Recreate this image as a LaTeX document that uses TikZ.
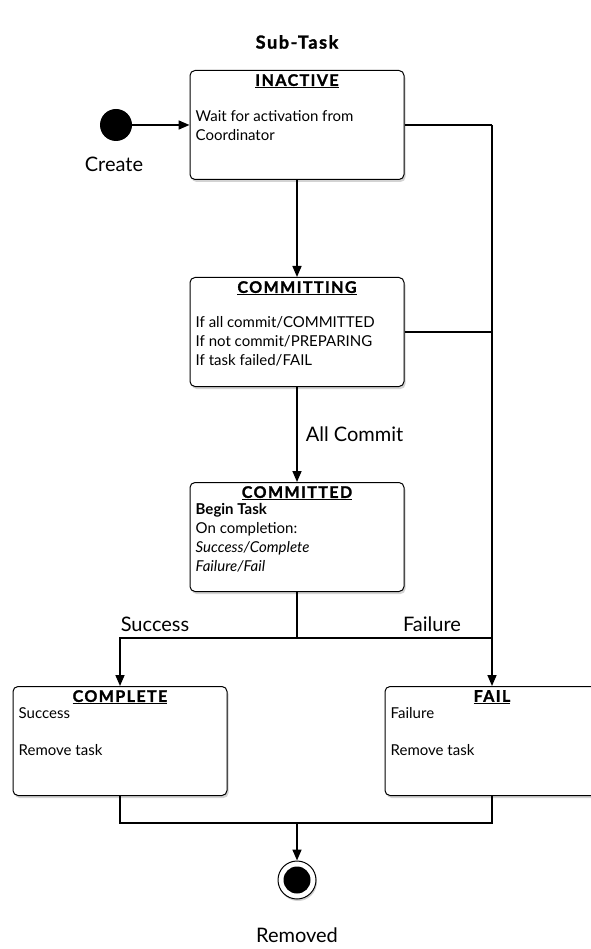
\documentclass[tikz,border=0pt]{standalone}
\usepackage{fontspec}
\setmainfont{Lato}
\newfontfamily\titlefont[LetterSpace=9, BoldFeatures={FakeBold=1.5}]{Lato}
\usetikzlibrary{positioning,shadows,arrows.meta}

\tikzset{
  statebox/.style={draw, line width=1pt, rounded corners=5pt, fill=white,
    minimum width=214pt, minimum height=109pt,
    drop shadow={opacity=0.35, shadow xshift=1.5pt, shadow yshift=-2.5pt}},
  statetitle/.style={font=\titlefont\fontsize{16}{18}\selectfont\bfseries, inner sep=0pt, anchor=north},
  statetext/.style={font=\fontsize{15}{19}\selectfont, align=left, inner sep=0pt, anchor=north west},
  edgelabel/.style={font=\fontsize{20}{22}\selectfont, inner sep=0pt},
  flow/.style={line width=1.6pt, -{Triangle[length=11pt,width=9pt]}},
  wire/.style={line width=1.6pt},
  initdot/.style={circle, fill=black, minimum size=32pt, inner sep=0pt},
  finaldot/.style={circle, draw, line width=1pt, fill=white, minimum size=38pt, inner sep=0pt,
    drop shadow={opacity=0.35, shadow xshift=1pt, shadow yshift=-2pt}}
}

\begin{document}
\begin{tikzpicture}[x=1pt, y=-1pt]
  \useasboundingbox (0,0) rectangle (590,949);

  \node[font=\titlefont\fontsize{18}{22}\selectfont\bfseries] (title) at (297,42) {Sub-Task};

  % states
  \node[statebox] (inactive) at (297,125) {};
  \node[statetitle, below=4pt of inactive.north] {\underline{INACTIVE}};
  \node[statetext, xshift=6pt, yshift=-40pt] at (inactive.north west)
    {Wait for activation from\\Coordinator};

  \node[statebox] (committing) at (297,332) {};
  \node[statetitle, below=4pt of committing.north] {\underline{COMMITTING}};
  \node[statetext, xshift=6pt, yshift=-39pt] at (committing.north west)
    {If all commit/COMMITTED\\If not commit/PREPARING\\If task failed/FAIL};

  \node[statebox] (committed) at (297,537) {};
  \node[statetitle, below=4pt of committed.north] {\underline{COMMITTED}};
  \node[statetext, xshift=6pt, yshift=-21pt] at (committed.north west)
    {\textbf{Begin Task}\\On completion:\\\textit{Success/Complete}\\\textit{Failure/Fail}};

  \node[statebox] (complete) at (120,741) {};
  \node[statetitle, below=4pt of complete.north] {\underline{COMPLETE}};
  \node[statetext, xshift=6pt, yshift=-21pt] at (complete.north west)
    {Success\\[18pt]Remove task};

  \node[statebox] (fail) at (492,741) {};
  \node[statetitle, below=4pt of fail.north] {\underline{FAIL}};
  \node[statetext, xshift=6pt, yshift=-21pt] at (fail.north west)
    {Failure\\[18pt]Remove task};

  \node[initdot] (create) at (116,125) {};
  \node[edgelabel] (createlbl) at (114,164) {Create};

  \node[finaldot] (removed) at (297,880) {};
  \fill (removed) circle (13.5pt);
  \node[edgelabel] (removedlbl) at (297,935) {Removed};

  \coordinate (railtop) at (492,125);
  \coordinate (split) at (297,638);
  \coordinate (join) at (492,638);
  \coordinate (merge) at (297,823);

  % transitions
  \draw[flow] (create) -- (inactive);
  \draw[flow] (inactive) -- (committing);
  \draw[flow] (committing) -- node[edgelabel, right=8pt] {All Commit} (committed);
  \draw[wire] (inactive.east) -- (railtop);
  \draw[flow] (railtop) -- (fail.north);
  \draw[wire] (committing.east) -- (committing.east -| railtop);
  \draw[wire] (committed.south) -- (split);
  \draw[flow] (split) -| (complete.north);
  \draw[wire] (split) -- (join);
  \node[edgelabel] (successlbl) at (155,624) {Success};
  \node[edgelabel] (failurelbl) at (432,624) {Failure};
  \draw[wire] (complete.south) |- (merge);
  \draw[wire] (fail.south) |- (merge);
  \draw[flow] (merge) -- (removed);
\end{tikzpicture}
\end{document}
